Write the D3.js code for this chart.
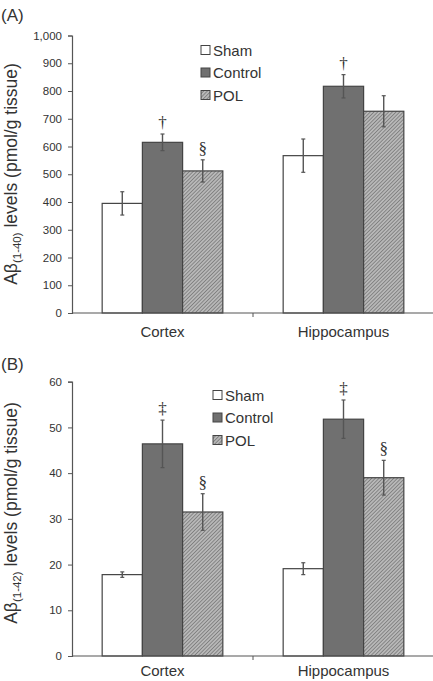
<!DOCTYPE html>
<html><head><meta charset="utf-8">
<script src="https://cdn.jsdelivr.net/npm/d3@7"></script>
<style>body{margin:0;background:#fff}svg{display:block}text{font-family:"Liberation Sans",Arial,sans-serif;fill:#333}</style>
</head><body>
<svg id="c" width="433" height="681"></svg>
<script>
const categories = ["Cortex", "Hippocampus"];
const series = ["Sham", "Control", "POL"];
// Panel A: Aβ(1-40)
const aMeans = { Sham: [395, 567], Control: [615, 817], POL: [512, 727] };
const aErr   = { Sham: [42, 60],   Control: [30, 42],  POL: [40, 56] };
const aTicks = [0, 100, 200, 300, 400, 500, 600, 700, 800, 900, 1000];
const aMarks = [["Control", 0, "†"], ["Control", 1, "†"], ["POL", 0, "§"]];
// Panel B: Aβ(1-42)
const bMeans = { Sham: [17.8, 19.1], Control: [46.4, 51.8], POL: [31.5, 39.0] };
const bErr   = { Sham: [0.6, 1.3],   Control: [5.2, 4.2],   POL: [4.0, 3.8] };
const bTicks = [0, 10, 20, 30, 40, 50, 60];
const bMarks = [["Control", 0, "‡"], ["Control", 1, "‡"], ["POL", 0, "§"], ["POL", 1, "§"]];

const svg = d3.select("#c");
const defs = svg.append("defs");
const pat = defs.append("pattern").attr("id", "hatch").attr("patternUnits", "userSpaceOnUse")
  .attr("width", 2.6).attr("height", 2.6).attr("patternTransform", "rotate(45)");
pat.append("rect").attr("width", 2.6).attr("height", 2.6).attr("fill", "#b8b8b8");
pat.append("line").attr("x1", 0).attr("y1", 0).attr("x2", 0).attr("y2", 2.6).attr("stroke", "#666").attr("stroke-width", 1.2);

const fills = { Sham: "#ffffff", Control: "#707070", POL: "url(#hatch)" };

function panel(opt) {
  const g = svg.append("g");
  const x = d3.scaleBand().domain(categories).range([72, 434]).padding(0);
  const xs = d3.scaleBand().domain(series).range([0, x.bandwidth()]).paddingInner(0).paddingOuter(0.75);
  const y = d3.scaleLinear().domain([0, opt.max]).range([opt.y0, opt.y1]);

  // y axis
  const ya = g.append("g").attr("transform", "translate(72,0)")
    .call(d3.axisLeft(y).tickValues(opt.ticks).tickSize(4).tickPadding(6).tickFormat(d3.format(",")));
  ya.select(".domain").attr("stroke", "#555").attr("stroke-width", 1.2);
  ya.selectAll(".tick line").attr("stroke", "#555");
  ya.selectAll("text").style("font-size", "11.5px").attr("fill", "#333");

  // bars
  series.forEach(s => {
    categories.forEach((c, i) => {
      const v = opt.means[s][i];
      g.append("rect").attr("x", x(c) + xs(s)).attr("width", xs.bandwidth())
        .attr("y", y(v)).attr("height", y(0) - y(v))
        .attr("fill", fills[s]).attr("stroke", "#444").attr("stroke-width", 1.2);
    });
  });
  // error bars
  series.forEach(s => {
    categories.forEach((c, i) => {
      const v = opt.means[s][i], e = opt.err[s][i];
      const cx = x(c) + xs(s) + xs.bandwidth() / 2;
      g.append("line").attr("x1", cx).attr("x2", cx).attr("y1", y(v + e)).attr("y2", y(v - e))
        .attr("stroke", "#555").attr("stroke-width", 1.4);
      [v + e, v - e].forEach(t => g.append("line").attr("x1", cx - 2).attr("x2", cx + 2)
        .attr("y1", y(t)).attr("y2", y(t)).attr("stroke", "#555").attr("stroke-width", 1.2));
    });
  });
  // significance marks
  opt.marks.forEach(([s, i, sym]) => {
    const c = categories[i];
    const cx = x(c) + xs(s) + xs.bandwidth() / 2;
    const top = y(opt.means[s][i] + opt.err[s][i]);
    g.append("text").attr("x", cx).attr("y", top - 6).attr("text-anchor", "middle")
      .style("font-size", "17px").style("font-family", "'Liberation Serif',serif").attr("fill", "#555").text(sym);
  });

  // x axis
  g.append("line").attr("x1", 72).attr("x2", 434).attr("y1", y(0)).attr("y2", y(0))
    .attr("stroke", "#555").attr("stroke-width", 1.2);
  g.append("line").attr("x1", x(categories[1])).attr("x2", x(categories[1]))
    .attr("y1", y(0)).attr("y2", y(0) + 4).attr("stroke", "#555");
  categories.forEach(c => g.append("text").attr("x", x(c) + x.bandwidth() / 2).attr("y", y(0) + opt.catDy)
    .attr("text-anchor", "middle").style("font-size", "15px").text(c));

  // y label
  const yl = g.append("text").attr("transform", `translate(17,${opt.labelY}) rotate(-90)`)
    .attr("text-anchor", "middle").style("font-size", "17.5px");
  yl.append("tspan").text("Aβ");
  yl.append("tspan").attr("dy", 4).style("font-size", "11.5px").text(opt.sub);
  yl.append("tspan").attr("dy", -4).text(" levels (pmol/g tissue)");

  // panel label
  g.append("text").attr("x", 1).attr("y", opt.panelY).style("font-size", "17px").attr("fill", "#222").text(opt.panel);

  // legend
  series.forEach((s, k) => {
    const ly = opt.legY + k * 22.5;
    g.append("rect").attr("x", opt.legX).attr("y", ly - 4.5).attr("width", 9).attr("height", 9)
      .attr("fill", fills[s]).attr("stroke", "#444").attr("stroke-width", 1);
    g.append("text").attr("x", opt.legX + 12).attr("y", ly + 5.5).style("font-size", "15px").text(s);
  });
}

panel({ max: 1000, y0: 313, y1: 35.5, ticks: aTicks, means: aMeans, err: aErr, marks: aMarks,
  sub: "(1-40)", labelY: 174, panel: "(A)", panelY: 21, legX: 201, legY: 50, catDy: 24 });
panel({ max: 60, y0: 656, y1: 381.7, ticks: bTicks, means: bMeans, err: bErr, marks: bMarks,
  sub: "(1-42)", labelY: 513, panel: "(B)", panelY: 370, legX: 213, legY: 395, catDy: 20 });
</script>
</body></html>
